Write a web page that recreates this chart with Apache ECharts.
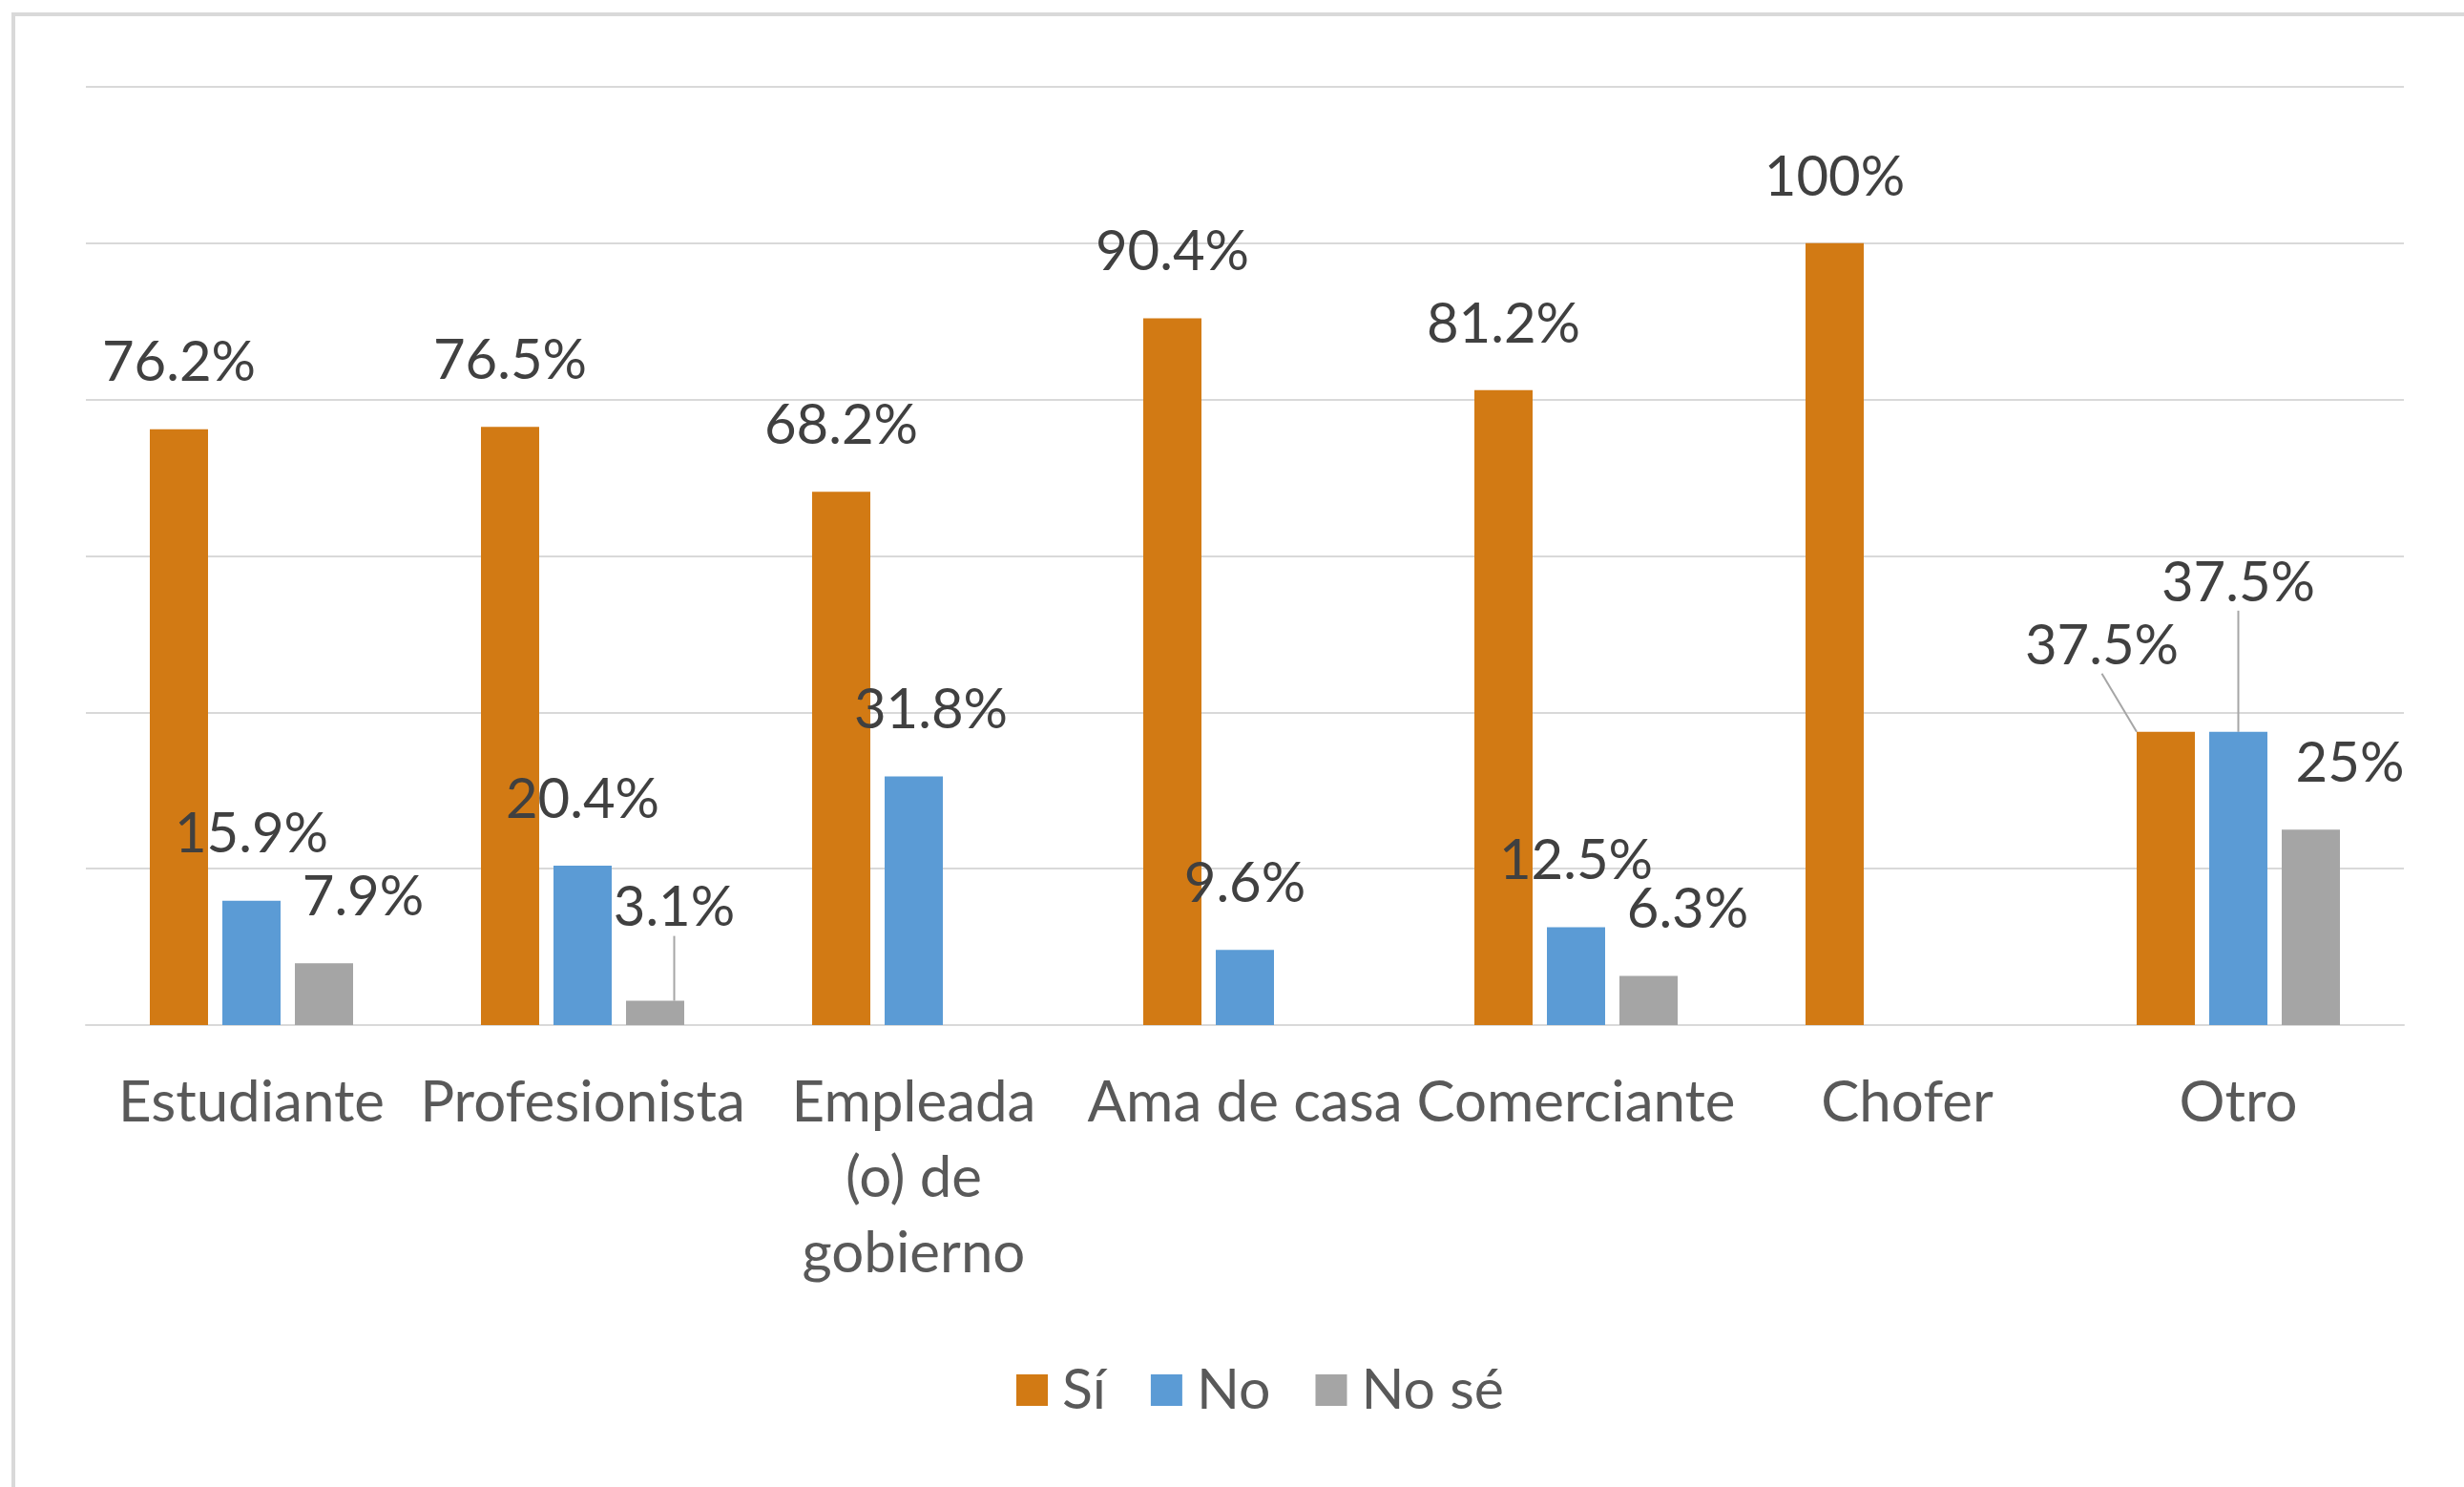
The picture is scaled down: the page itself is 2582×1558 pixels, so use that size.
<!DOCTYPE html>
<html>
<head>
<meta charset="utf-8">
<script src="https://cdn.jsdelivr.net/npm/echarts@6/dist/echarts.min.js"></script>
<style>
  html, body { margin: 0; padding: 0; background: #fff; }
  #chart { width: 2582px; height: 1558px; }
</style>
</head>
<body>
<div id="chart"></div>
<script>
  // datos (porcentajes)
  const categorias = ['Estudiante', 'Profesionista', 'Empleada\n(o) de\ngobierno', 'Ama de casa', 'Comerciante', 'Chofer', 'Otro'];
  const si = [76.2, 76.5, 68.2, 90.4, 81.2, 100, 37.5];
  const no = [15.9, 20.4, 31.8, 9.6, 12.5, 0, 37.5];
  const noSe = [7.9, 3.1, 0, 0, 6.3, 0, 25];
  const yTicks = [0, 20, 40, 60, 80, 100, 120];

  // etiquetas movidas a mano en el original (dx, dy en px) y las que llevan línea guía
  const movidas = {
    'Sí': { 6: [-67, -21] },
    'No': { 2: [18, 0], 6: [0, -87] },
    'No sé': { 0: [41, 0], 1: [20, -28], 4: [41, 0], 6: [41, 0] }
  };
  const conLinea = {
    'Sí': [6],
    'No': [6],
    'No sé': [1]
  };

  const font = 'Lato';
  const textColor = '#404040';
  const axisColor = '#595959';
  const gridColor = '#D9D9D9';

  function makeSeries(name, values, color) {
    return {
      name: name,
      type: 'bar',
      barWidth: 61,
      barGap: '24.6%',
      itemStyle: { color: color },
      data: values.map((v, i) => {
        const item = { value: v };
        if (conLinea[name].indexOf(i) >= 0) {
          item.labelLine = { show: true, lineStyle: { color: '#A6A6A6', width: 2 } };
        }
        return item;
      }),
      label: {
        show: true,
        position: 'top',
        distance: 40,
        fontFamily: font,
        fontSize: 58,
        lineHeight: 58,
        color: textColor,
        formatter: p => (p.value ? p.value + '%' : '')
      },
      labelLayout: p => {
        const s = movidas[name][p.dataIndex];
        return s ? { dx: s[0], dy: s[1] } : null;
      }
    };
  }

  const chart = echarts.init(document.getElementById('chart'));
  const option = {
    animation: false,
    backgroundColor: '#fff',
    graphic: [{
      type: 'rect',
      shape: { x: 14, y: 15, width: 3000, height: 3000 },
      style: { fill: 'none', stroke: gridColor, lineWidth: 4 },
      silent: true
    }],
    grid: { left: 90, right: 63, top: 91, bottom: 484 },
    legend: {
      data: ['Sí', 'No', 'No sé'],
      left: 1060,
      top: 1422,
      icon: 'rect',
      itemWidth: 33,
      itemHeight: 33,
      itemGap: 47,
      textStyle: { fontFamily: font, fontSize: 59, lineHeight: 58, color: axisColor, padding: [0, 0, 0, 10] }
    },
    xAxis: {
      type: 'category',
      data: categorias,
      axisLine: { lineStyle: { color: gridColor, width: 2 } },
      axisTick: { show: false },
      axisLabel: {
        interval: 0,
        margin: 42,
        fontFamily: font,
        fontSize: 60,
        lineHeight: 79,
        color: axisColor
      }
    },
    yAxis: {
      type: 'value',
      min: yTicks[0],
      max: yTicks[yTicks.length - 1],
      interval: yTicks[1] - yTicks[0],
      axisLabel: { show: false },
      axisLine: { show: false },
      axisTick: { show: false },
      splitLine: { lineStyle: { color: gridColor, width: 2 } }
    },
    series: [
      makeSeries('Sí', si, '#D27A14'),
      makeSeries('No', no, '#5B9BD5'),
      makeSeries('No sé', noSe, '#A5A5A5')
    ]
  };
  chart.setOption(option);
</script>
</body>
</html>
